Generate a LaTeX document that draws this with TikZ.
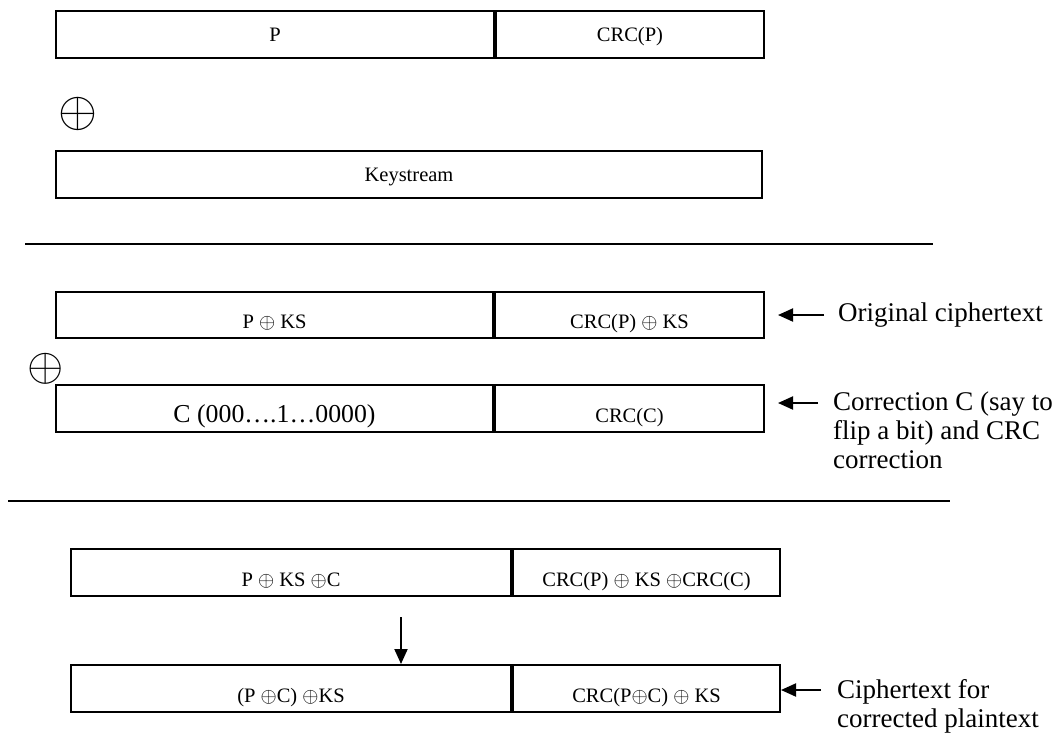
\documentclass[tikz,border=0pt]{standalone}
\usepackage{fontspec}
\setmainfont{Liberation Serif}
\usetikzlibrary{arrows.meta,positioning}

\begin{document}
\begin{tikzpicture}[
  x=1pt, y=-1pt,
  cell/.style={draw, line width=2pt, inner sep=0pt, anchor=north west,
    minimum height=47pt, text height=13.5pt, text depth=0pt,
    font=\fontsize{20.5}{22}\selectfont},
  half/.style={cell, anchor=west},
  low/.style={text height=27pt},
  lbl/.style={align=left, inner sep=0pt, font=\fontsize{27}{29}\selectfont},
  xorsym/.style={inner sep=0pt, font=\fontsize{17.28}{17.28}\selectfont},
  ar/.style={-{Triangle[length=15pt,width=13pt]}, line width=2pt},
  sep/.style={line width=2.2pt}
]
\useasboundingbox (0,0) rectangle (1055,734);

% plaintext with its crc, and the keystream
\node[cell, minimum width=438pt] (plain) at (55,10) {P};
\node[half, minimum width=268pt, right=0pt of plain] (crcplain) {CRC(P)};
\node[xorsym, scale=2.9] (xora) at (77.5,113.5) {$\oplus$};
\node[cell, minimum width=706pt] (keys) at (55,150) {Keystream};

\coordinate (sepa) at (25,244);
\coordinate (sepb) at (933,244);
\draw[sep] (sepa) -- (sepb);

% original ciphertext and the correction
\node[cell, low, minimum width=437pt, minimum height=46pt] (pks) at (55,291) {P $\oplus$ KS};
\node[half, low, minimum width=269pt, minimum height=46pt, right=0pt of pks] (crcpks) {CRC(P) $\oplus$ KS};
\node[lbl, right=73pt of crcpks] (origlbl) {Original ciphertext};
\draw[ar, shorten <=14pt, shorten >=13pt] (origlbl.west) -- (crcpks.east);

\node[xorsym, scale=2.7] (xorb) at (46,369) {$\oplus$};
\node[cell, low, minimum width=437pt, font=\fontsize{25.8}{27}\selectfont] (corr) at (55,384) {C (000….1…0000)};
\node[half, low, minimum width=269pt, right=0pt of corr] (crccorr) {CRC(C)};
\node[lbl, anchor=north west] (corrlbl) at (833,392) {Correction C (say to\\flip a bit) and CRC\\correction};
\coordinate (corrtip) at ([xshift=13pt, yshift=5.5pt]crccorr.east);
\draw[ar, shorten <=15pt] (corrlbl.west |- corrtip) -- (corrtip);

\coordinate (sepc) at (8,501);
\coordinate (sepd) at (950,501);
\draw[sep] (sepc) -- (sepd);

% modified ciphertext
\node[cell, low, minimum width=440pt] (mod) at (70,548) {P $\oplus$ KS $\oplus$C};
\node[half, low, minimum width=267pt, right=0pt of mod] (crcmod) {CRC(P) $\oplus$ KS $\oplus$CRC(C)};

\node[cell, low, minimum width=440pt] (res) at (70,664) {(P $\oplus$C) $\oplus$KS};
\node[half, low, minimum width=267pt, right=0pt of res] (crcres) {CRC(P$\oplus$C) $\oplus$ KS};

\coordinate (drop) at (401,617);
\draw[ar] (drop) -- (drop |- res.north);

\node[lbl, anchor=north west] (reslbl) at (837,679) {Ciphertext for\\corrected plaintext};
\coordinate (restip) at ([yshift=-1.5pt]crcres.east);
\draw[ar, shorten <=16pt] (reslbl.west |- restip) -- (restip);
\end{tikzpicture}
\end{document}
